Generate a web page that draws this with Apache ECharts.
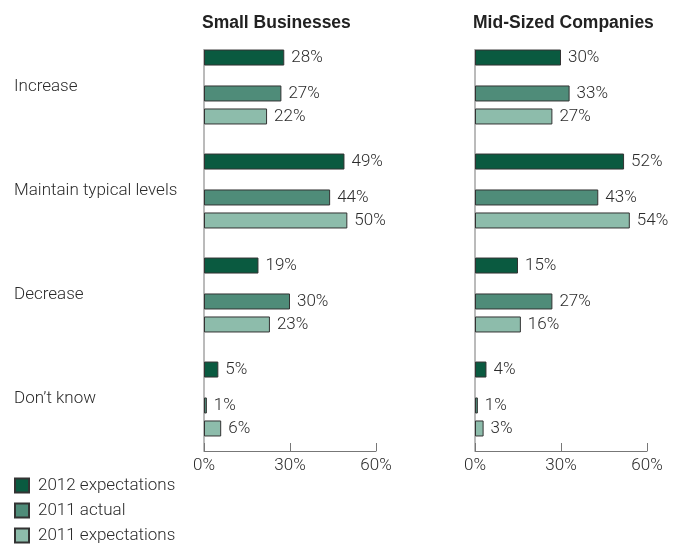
<!DOCTYPE html>
<html>
<head>
<meta charset="utf-8">
<script src="https://cdn.jsdelivr.net/npm/echarts@6/dist/echarts.min.js"></script>
<style>
  html, body { margin: 0; padding: 0; background: #fff; }
  #chart { width: 688px; height: 544px; }
</style>
</head>
<body>
<div id="chart"></div>
<script>
// Spending plans: share of respondents per answer, by company size
const categories = ['Increase', 'Maintain typical levels', 'Decrease', 'Don\u2019t know'];
const panelTitles = ['Small Businesses', 'Mid-Sized Companies'];
const seriesNames = ['2012 expectations', '2011 actual', '2011 expectations'];
const xTicks = [0, 30, 60];

const small2012Exp = [28, 49, 19, 5];
const small2011Act = [27, 44, 30, 1];
const small2011Exp = [22, 50, 23, 6];

const mid2012Exp = [30, 52, 15, 4];
const mid2011Act = [33, 43, 27, 1];
const mid2011Exp = [27, 54, 16, 3];

const colors = ['#0a5a40', '#4f8c79', '#8dbcab'];
const FONT = 'Roboto, "Liberation Sans", sans-serif';
const WEIGHT = 300;
const SIZE = 17;
const TEXT = '#2b2b2b';

const gridTop = 35, gridHeight = 416, gridWidth = 172;
const gridLefts = [204, 475];
const panels = [
  [small2012Exp, small2011Act, small2011Exp],
  [mid2012Exp, mid2011Act, mid2011Exp]
];

const grids = [], xAxes = [], yAxes = [], series = [], graphics = [];

gridLefts.forEach(function (left, p) {
  grids.push({ left: left, top: gridTop, width: gridWidth, height: gridHeight });
  xAxes.push({
    type: 'value', gridIndex: p, min: xTicks[0], max: xTicks[xTicks.length - 1], interval: 30,
    axisLine: { show: true, lineStyle: { color: '#777', width: 1 } },
    axisTick: { show: true, inside: true, length: 8, lineStyle: { color: '#777' } },
    splitLine: { show: false },
    axisLabel: { formatter: '{value}%', color: TEXT, fontFamily: FONT, fontWeight: WEIGHT, fontSize: SIZE, margin: 6 }
  });
  yAxes.push({
    type: 'category', gridIndex: p, data: categories, inverse: true,
    axisLine: { show: false }, axisTick: { show: false },
    axisLabel: {
      show: p === 0, align: 'left', margin: left - 14,
      color: TEXT, fontFamily: FONT, fontWeight: WEIGHT, fontSize: SIZE
    }
  });
  // vertical baseline running from the first bar down to the x axis
  graphics.push({
    type: 'line', silent: true,
    shape: { x1: left, y1: gridTop + 14, x2: left, y2: gridTop + gridHeight },
    style: { stroke: '#777', lineWidth: 1 }
  });
  graphics.push({
    type: 'text', left: left - 2, top: 14,
    style: { text: panelTitles[p], fill: '#222', font: 'bold 17.5px "Liberation Sans", Arial, sans-serif' }
  });

  const label = {
    show: true, position: 'right', distance: 7, formatter: '{c}%',
    color: TEXT, fontFamily: FONT, fontWeight: WEIGHT, fontSize: SIZE
  };
  const barStyle = (c) => ({ color: c, borderColor: '#333', borderWidth: 1 });

  series.push({
    name: seriesNames[0], type: 'bar', xAxisIndex: p, yAxisIndex: p,
    data: panels[p][0], barWidth: 16, barGap: '43.75%',
    itemStyle: barStyle(colors[0]), label: label
  });
  // empty spacer column that opens the wider gap after the first bar
  series.push({
    name: 'spacer', type: 'bar', xAxisIndex: p, yAxisIndex: p,
    data: [], barWidth: 9, barGap: '43.75%', silent: true
  });
  series.push({
    name: seriesNames[1], type: 'bar', xAxisIndex: p, yAxisIndex: p,
    data: panels[p][1], barWidth: 16, barGap: '43.75%',
    itemStyle: barStyle(colors[1]), label: label
  });
  series.push({
    name: seriesNames[2], type: 'bar', xAxisIndex: p, yAxisIndex: p,
    data: panels[p][2], barWidth: 16, barGap: '43.75%',
    itemStyle: barStyle(colors[2]), label: label
  });
});

const chart = echarts.init(document.getElementById('chart'), null, { renderer: 'canvas' });
chart.setOption({
  animation: false,
  backgroundColor: '#fff',
  grid: grids,
  xAxis: xAxes,
  yAxis: yAxes,
  series: series,
  graphic: graphics,
  legend: {
    data: seriesNames, orient: 'vertical', left: 14, top: 477, height: 100, padding: 0,
    icon: 'rect', itemWidth: 14, itemHeight: 14, itemGap: 8,
    textStyle: {
      color: TEXT, fontFamily: FONT, fontWeight: WEIGHT, fontSize: SIZE, lineHeight: 14,
      padding: [0, 0, 0, 4]
    },
    selectedMode: false
  }
});
</script>
</body>
</html>
